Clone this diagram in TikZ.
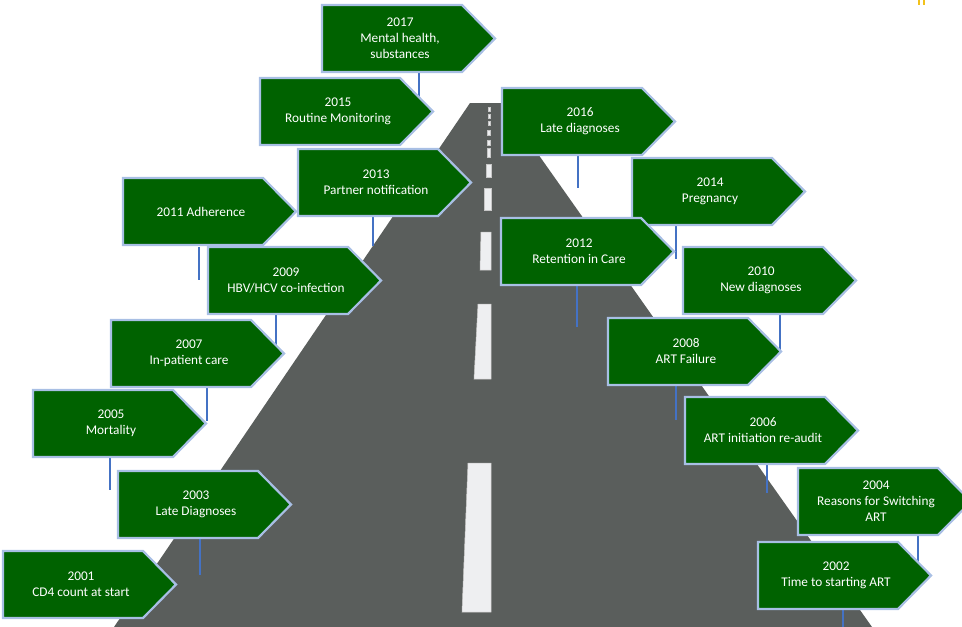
\documentclass[tikz,border=0pt]{standalone}
\usepackage{fontspec}
\setmainfont{Carlito}
\definecolor{signgreen}{HTML}{006200}
\definecolor{signedge}{HTML}{A8BFE4}
\definecolor{postblue}{HTML}{4472C4}
\definecolor{roadgray}{HTML}{5A5E5C}
\definecolor{dashwhite}{HTML}{EEEFF1}
\definecolor{markyellow}{HTML}{F2C21B}
\tikzset{
  signshape/.style={fill=signgreen, draw=signedge, line width=2.2pt, line join=miter},
  signtext/.style={text=white, align=center, font=\fontsize{13.3}{16}\selectfont, inner sep=0pt},
  signpole/.style={draw=postblue, line width=2.6pt},
  roadmark/.style={fill=dashwhite, draw=black!22, line width=0.5pt},
}
\newcommand{\roadsign}[4]{%
  \path[signshape] (#2,#3) -- ++(140,0) -- ++(33,33.5) -- ++(-33,33.5) -- ++(-140,0) -- cycle;
  \node[signtext] (#1) at (#2+78,#3+33.5) {#4};}
\newcommand{\signpoleat}[3]{\draw[signpole] (#1,#2) -- (#1,#3);}
\newcommand{\roaddash}[5]{\path[roadmark] (#1,#4) -- (#3,#4) -- (#3,#5) -- (#2,#5) -- cycle;}
\begin{document}
\begin{tikzpicture}[x=1pt,y=-1pt]
\useasboundingbox (0,0) rectangle (962,627);
\clip (0,0) rectangle (962,627);
% road
\fill[roadgray] (470,103) -- (502,103) -- (872,627) -- (114,627) -- cycle;
% centre line
\roaddash{468}{462}{491}{463}{612}
\roaddash{478}{474}{491}{304}{379}
\roaddash{481}{480}{491}{232}{270}
\roaddash{484}{484}{491}{188}{210}
\roaddash{486}{486}{491}{164}{177}
\roaddash{487}{487}{490}{148}{157}
\roaddash{487}{487}{490}{140}{145}
\roaddash{487.5}{487.5}{490}{130}{135}
\roaddash{488}{488}{490}{121}{125}
\roaddash{488}{488}{490}{114}{118}
\roaddash{488.5}{488.5}{490}{107}{111}
% poles
\signpoleat{419}{71}{105}
\signpoleat{578}{155}{188}
\signpoleat{373}{216}{246}
\signpoleat{199}{247}{280}
\signpoleat{276}{313}{350}
\signpoleat{676}{226}{259}
\signpoleat{577}{286}{327}
\signpoleat{780}{313}{350}
\signpoleat{676}{383}{420}
\signpoleat{207}{387}{421}
\signpoleat{110}{457}{490}
\signpoleat{767}{463}{493}
\signpoleat{200}{538}{575}
\signpoleat{918}{535}{562}
\signpoleat{843}{608}{627}
% signs
\roadsign{s2017}{322}{5}{2017\\Mental health,\\substances}
\roadsign{s2015}{260}{78}{2015\\Routine Monitoring}
\roadsign{s2016}{502}{88}{2016\\Late diagnoses}
\roadsign{s2013}{298}{149}{2013\\Partner notification}
\roadsign{s2014}{632}{158}{2014\\Pregnancy}
\roadsign{s2011}{123}{178}{2011 Adherence}
\roadsign{s2012}{501}{218}{2012\\Retention in Care}
\roadsign{s2009}{208}{247}{2009\\HBV/HCV co-infection}
\roadsign{s2010}{683}{247}{2010\\New diagnoses}
\roadsign{s2008}{608}{318}{2008\\ART Failure}
\roadsign{s2007}{111}{320}{2007\\In-patient care}
\roadsign{s2005}{33}{390}{2005\\Mortality}
\roadsign{s2006}{685}{397}{2006\\ART initiation re-audit}
\roadsign{s2004}{798}{468}{2004\\Reasons for Switching\\ART}
\roadsign{s2003}{118}{471}{2003\\Late Diagnoses}
\roadsign{s2002}{758}{542}{2002\\Time to starting ART}
\roadsign{s2001}{3}{551}{2001\\CD4 count at start}
% small yellow marks
\draw[markyellow, line width=1.4pt] (919,0) -- (919,5);
\draw[markyellow, line width=1.4pt] (924,0) -- (924,5);
\end{tikzpicture}
\end{document}
